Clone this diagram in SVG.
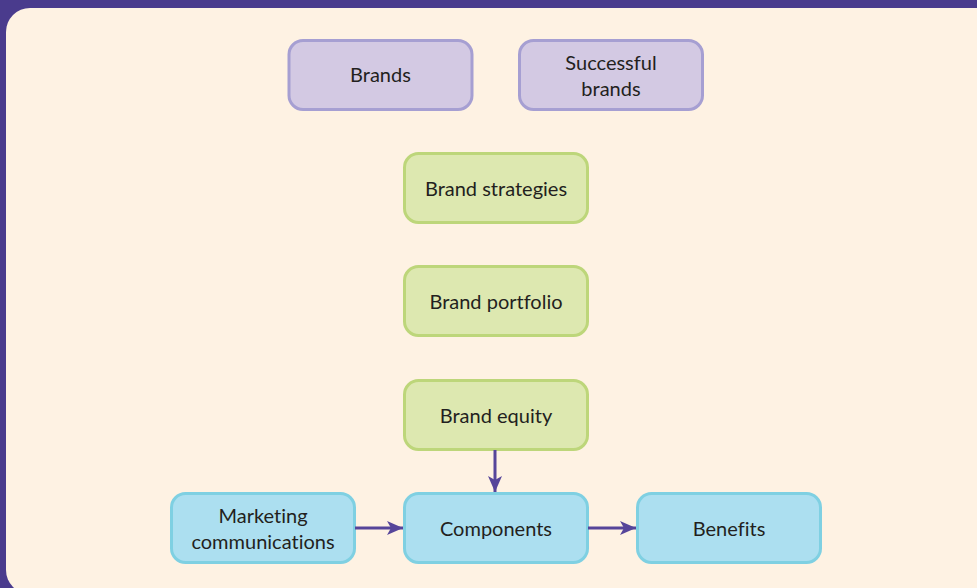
<svg xmlns="http://www.w3.org/2000/svg" width="977" height="588" viewBox="0 0 977 588">
<defs>
<style>
.box{stroke-width:3}
.p{fill:#d3c9e3;stroke:#a69fd2}
.g{fill:#dde8b0;stroke:#bdd67a}
.b{fill:#acdff0;stroke:#7fd0e2}
text{font-family:Lato,"Open Sans",sans-serif;font-size:20px;fill:#231f20;text-anchor:middle;font-variant-ligatures:none}
.c{stroke:#56459a;stroke-width:3;fill:none}
</style>
<marker id="ah" viewBox="0 0 16 14" refX="16" refY="7" markerWidth="16" markerHeight="14" markerUnits="userSpaceOnUse" orient="auto">
<path d="M0,0 L16,7 L0,14 L4,7 Z" fill="#56459a"/>
</marker>
</defs>
<rect x="0" y="0" width="977" height="588" fill="#4a3b8d"/>
<rect x="6" y="8" width="1000" height="586" rx="24" ry="24" fill="#fef2e3"/>
<g id="brands"><rect class="box p" x="289" y="40.5" width="183" height="69" rx="14"/><text x="380.5" y="82">Brands</text></g>
<g id="successful-brands"><rect class="box p" x="519.5" y="40.5" width="183" height="69" rx="14"/><text x="611" y="70">Successful</text><text x="611" y="96">brands</text></g>
<g id="brand-strategies"><rect class="box g" x="404.5" y="153.5" width="183" height="69" rx="14"/><text x="496" y="196">Brand strategies</text></g>
<g id="brand-portfolio"><rect class="box g" x="404.5" y="266.5" width="183" height="69" rx="14"/><text x="496" y="309">Brand portfolio</text></g>
<g id="brand-equity"><rect class="box g" x="404.5" y="380.5" width="183" height="69" rx="14"/><text x="496" y="423">Brand equity</text></g>
<g id="marketing-communications"><rect class="box b" x="171.5" y="493.5" width="183" height="69" rx="14"/><text x="263" y="523">Marketing</text><text x="263" y="549">communications</text></g>
<g id="components"><rect class="box b" x="404.5" y="493.5" width="183" height="69" rx="14"/><text x="496" y="536">Components</text></g>
<g id="benefits"><rect class="box b" x="637.5" y="493.5" width="183" height="69" rx="14"/><text x="729" y="536">Benefits</text></g>
<g id="connectors">
<path class="c" d="M495,450 L495,492" marker-end="url(#ah)"/>
<path class="c" d="M355,528 L403,528" marker-end="url(#ah)"/>
<path class="c" d="M588,528 L636,528" marker-end="url(#ah)"/>
</g>
</svg>
